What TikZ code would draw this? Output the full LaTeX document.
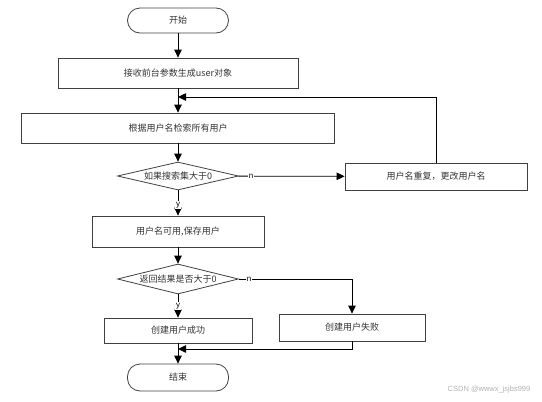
\documentclass[tikz,border=0pt]{standalone}
\usepackage{fontspec}
\newfontfamily\cjk{Noto Sans CJK SC}
\newfontfamily\latinsans{Liberation Sans}
\usetikzlibrary{arrows.meta,calc,positioning,shapes.geometric}
\definecolor{boxline}{RGB}{64,64,64}
\definecolor{flowtext}{RGB}{50,50,50}
\tikzset{
  procbox/.style={rectangle,draw=boxline,thick,text=flowtext,inner sep=0pt,
    font=\cjk\fontsize{9}{11}\selectfont},
  termbox/.style={rectangle,rounded corners=12.5pt,draw=boxline,thick,text=flowtext,
    inner sep=0pt,minimum width=101pt,font=\cjk\fontsize{9}{11}\selectfont},
  testbox/.style={diamond,draw=boxline,thick,text=flowtext,inner sep=0pt,aspect=4.3,
    minimum width=121pt,font=\cjk\fontsize{9}{11}\selectfont},
  flow/.style={-{Triangle[length=8pt,width=7.5pt]},thick,black},
  branch/.style={font=\latinsans\fontsize{8}{9}\selectfont,fill=white,inner sep=1pt}
}
\begin{document}
\begin{tikzpicture}[x=1pt,y=-1pt]
  \useasboundingbox (0,0) rectangle (542,402);
  \node[termbox,minimum height=25pt] (start) at (178, 20.5) {开始};
  \node[procbox,minimum width=240pt,minimum height=30pt] (recv) at (178, 73) {接收前台参数生成user对象};
  \node[procbox,minimum width=313pt,minimum height=30pt] (search) at (178,128) {根据用户名检索所有用户};
  \node[testbox,minimum height=28pt] (check1) at (178,176) {如果搜索集大于0};
  \node[procbox,minimum width=182pt,minimum height=27pt] (dup) at (436,176.5) {用户名重复，更改用户名};
  \node[procbox,minimum width=172pt,minimum height=31pt] (save) at (178,231.5) {用户名可用,保存用户};
  \node[testbox,minimum height=30pt] (check2) at (178,279) {返回结果是否大于0};
  \node[procbox,minimum width=148pt,minimum height=25pt] (succ) at (178,330.5) {创建用户成功};
  \node[procbox,minimum width=146pt,minimum height=27pt] (fail) at (352,327.5) {创建用户失败};
  \node[termbox,minimum height=27pt] (finish) at (178,377.5) {结束};
  \coordinate (retry) at (178,97);
  \coordinate (merge) at (178,349);
  \draw[flow] (start) -- (recv);
  \draw[flow] (recv) -- (search);
  \draw[flow] (search) -- (check1);
  \draw[flow] (check1) -- node[branch,pos=0.12] {n} (dup);
  \draw[flow] (dup.north) |- (retry);
  \draw[flow] (check1) -- node[branch,pos=0.58] {y} (save);
  \draw[flow] (save) -- (check2);
  \draw[flow] (check2.east) -| node[branch,pos=0.045] {n} (fail.north);
  \draw[flow] (check2) -- node[branch,pos=0.5] {y} (succ);
  \draw[flow] (succ) -- (finish);
  \draw[flow] (fail.south) |- (merge);
  \node[text=black!30,font=\latinsans\fontsize{7.5}{9}\selectfont] (mark) at (489,390) {CSDN @wwwx\_jsjbs999};
\end{tikzpicture}
\end{document}
